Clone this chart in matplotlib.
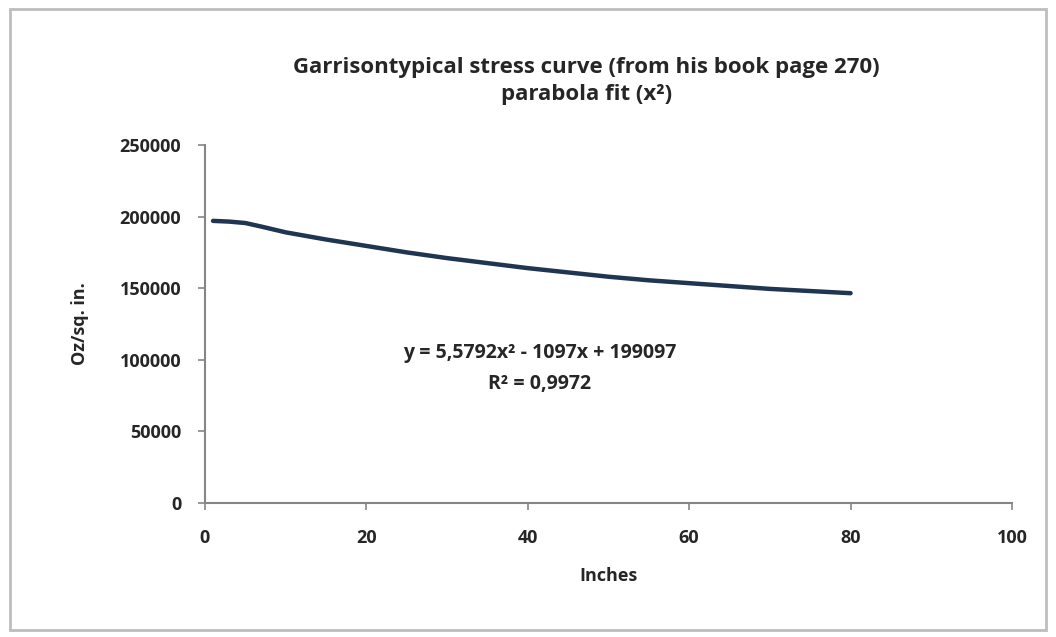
import matplotlib.pyplot as plt
from matplotlib.patches import Rectangle

# Data
inches = [1, 3, 5, 7, 10, 15, 20, 25, 30, 35, 40, 45, 50, 55, 60, 65, 70, 75, 80]
stress = [197000, 196500, 195500, 193000, 189000, 184000, 179500, 175000, 171000,
          167500, 164000, 161000, 158000, 155500, 153500, 151500, 149500, 148000, 146500]
x_ticks = [0, 20, 40, 60, 80, 100]
y_ticks = [0, 50000, 100000, 150000, 200000, 250000]

title = 'Garrisontypical stress curve (from his book page 270)\nparabola fit (x\u00b2)'
equation = 'y = 5,5792x\u00b2 - 1097x + 199097'
r_squared = 'R\u00b2 = 0,9972'

plt.rcParams['font.family'] = ['Open Sans', 'DejaVu Sans']
grey = '#868686'
text_col = '#262626'

fig = plt.figure(figsize=(10.56, 6.37), dpi=100)
fig.patches.append(Rectangle((0.009, 0.011), 0.982, 0.975, transform=fig.transFigure,
                             fill=False, edgecolor='#bdbdbd', linewidth=2))

ax = fig.add_axes([0.1941, 0.2104, 0.7642, 0.5620])
ax.plot(inches, stress, color='#1f3552', linewidth=3.2, solid_capstyle='round')

ax.set_xlim(0, 100)
ax.set_ylim(0, 250000)
ax.set_xticks(x_ticks)
ax.set_yticks(y_ticks)
ax.tick_params(colors=grey, labelcolor=text_col, labelsize=13, length=5, width=1.2)
for lbl in ax.get_xticklabels() + ax.get_yticklabels():
    lbl.set_fontweight('bold')
ax.tick_params(axis='x', pad=14)
ax.tick_params(axis='y', pad=12)

for side in ['top', 'right']:
    ax.spines[side].set_visible(False)
for side in ['left', 'bottom']:
    ax.spines[side].set_color(grey)
    ax.spines[side].set_linewidth(1.5)

ax.set_xlabel('Inches', fontsize=13, color=text_col, labelpad=14, fontweight='bold')
ax.set_ylabel('Oz/sq. in.', fontsize=13, color=text_col, labelpad=22, fontweight='bold')

fig.text(0.555, 0.873, title, ha='center', va='center', fontsize=16,
         fontweight='bold', color=text_col, linespacing=1.35)

ax.text(41.5, 104900, equation, ha='center', va='center', fontsize=14,
        fontweight='bold', color=text_col)
ax.text(41.5, 83300, r_squared, ha='center', va='center', fontsize=14,
        fontweight='bold', color=text_col)

fig.savefig('out.png', dpi=100)
